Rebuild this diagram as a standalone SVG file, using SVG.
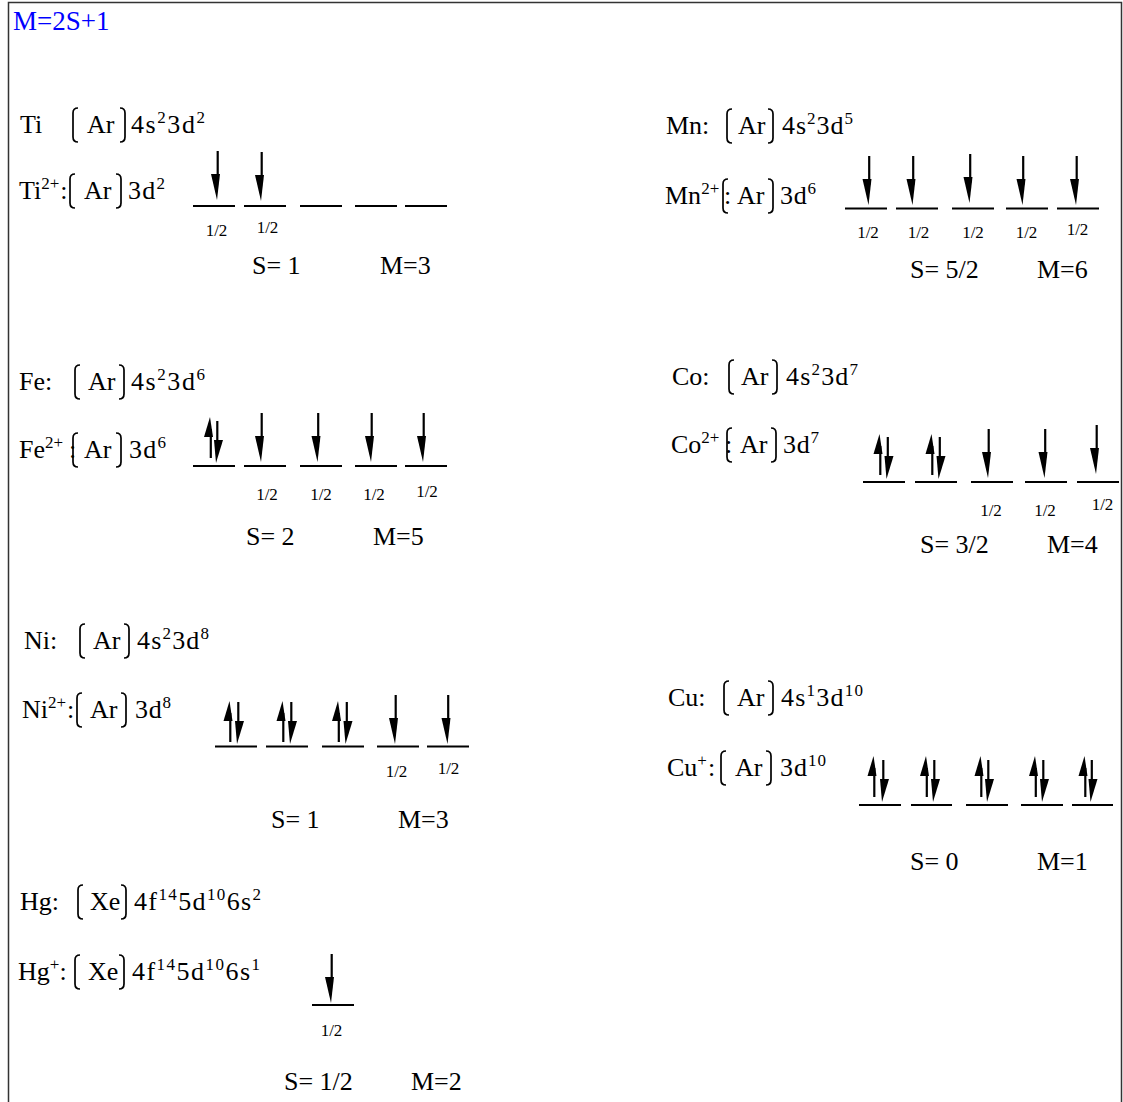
<svg xmlns="http://www.w3.org/2000/svg" xmlns:xlink="http://www.w3.org/1999/xlink" width="1123" height="1102" viewBox="0 0 1123 1102">
<style>
.t{font-family:"Liberation Serif","Times New Roman",serif;font-size:26px;fill:#000}
.s{font-size:17px}
.h{font-family:"Liberation Serif","Times New Roman",serif;font-size:17px;fill:#000;text-anchor:middle}
.ttl{font-family:"Liberation Serif","Times New Roman",serif;font-size:27px;fill:#0000ff}
.br{fill:none;stroke:#000;stroke-width:1.7}
.ln{fill:none;stroke:#000;stroke-width:2}
</style>
<defs>
<g id="dn"><path d="M0.7 -49V-20" stroke="#000" stroke-width="2.2"/><polygon points="0,0 -6,-26 3,-26" fill="#000"/></g>
<g id="up"><path d="M0.8 12V41" stroke="#000" stroke-width="2.2"/><polygon points="0,0 -6,20 3,20" fill="#000"/></g>
<g id="dn2"><path d="M1.3 -42V-18" stroke="#000" stroke-width="2.2"/><polygon points="0,0 -2,-23 7,-23" fill="#000"/></g>
</defs>
<rect width="1123" height="1102" fill="#fff"/>
<path d="M8.5 1102V2.5H1121.5V1102" fill="none" stroke="#333" stroke-width="1.5"/>
<text class="ttl" x="13" y="30">M=2S+1</text>

<g id="ti">
<text class="t" x="20" y="133">Ti</text>
<path class="br" d="M78 108Q73 108 73 113V137Q73 142 78 142M120 108Q125 108 125 113V137Q125 142 120 142"/>
<text class="t" x="87" y="133">Ar</text>
<text class="t" x="131" y="133" textLength="74" lengthAdjust="spacing">4s<tspan class="s" dy="-10">2</tspan><tspan dy="10">3d</tspan><tspan class="s" dy="-10">2</tspan></text>
<text class="t" x="19" y="199">Ti<tspan class="s" dy="-10">2+</tspan><tspan dy="10" dx="1">:</tspan></text>
<path class="br" d="M75 174Q70 174 70 179V203Q70 208 75 208M116 174Q121 174 121 179V203Q121 208 116 208"/>
<text class="t" x="84" y="199">Ar</text>
<text class="t" x="128" y="199" textLength="37" lengthAdjust="spacing">3d<tspan class="s" dy="-10">2</tspan></text>
<path class="ln" d="M193 206H235M244 206H286M300 206H342M355 206H397M405 206H447"/>
<use href="#dn" x="217" y="200"/>
<use href="#dn" x="261" y="201"/>
<text class="h" x="216.5" y="236">1/2</text>
<text class="h" x="267.5" y="233">1/2</text>
<text class="t" x="252" y="274">S= 1</text>
<text class="t" x="380" y="274">M=3</text>
</g>

<g id="mn">
<text class="t" x="666" y="134">Mn:</text>
<path class="br" d="M732 109Q727 109 727 114V138Q727 143 732 143M768 109Q773 109 773 114V138Q773 143 768 143"/>
<text class="t" x="738" y="134">Ar</text>
<text class="t" x="782" y="134" textLength="71" lengthAdjust="spacing">4s<tspan class="s" dy="-10">2</tspan><tspan dy="10">3d</tspan><tspan class="s" dy="-10">5</tspan></text>
<text class="t" x="665" y="204">Mn<tspan class="s" dy="-10">2+</tspan></text>
<path class="br" d="M728 179Q723 179 723 184V208Q723 213 728 213M768 179Q773 179 773 184V208Q773 213 768 213"/>
<text class="t" x="724" y="204">:</text>
<text class="t" x="737" y="204">Ar</text>
<text class="t" x="780" y="204" textLength="36" lengthAdjust="spacing">3d<tspan class="s" dy="-10">6</tspan></text>
<path class="ln" d="M845 208.5H887M896 208.5H938M952 208.5H994M1006 208.5H1048M1057 208.5H1099"/>
<use href="#dn" x="868.5" y="205"/>
<use href="#dn" x="912.5" y="205"/>
<use href="#dn" x="969.5" y="203"/>
<use href="#dn" x="1022.5" y="205"/>
<use href="#dn" x="1076" y="205"/>
<text class="h" x="868" y="238">1/2</text>
<text class="h" x="918.5" y="238">1/2</text>
<text class="h" x="973" y="238">1/2</text>
<text class="h" x="1026.5" y="238">1/2</text>
<text class="h" x="1077.5" y="235">1/2</text>
<text class="t" x="910" y="278">S= 5/2</text>
<text class="t" x="1037" y="278">M=6</text>
</g>

<g id="fe">
<text class="t" x="19" y="390">Fe:</text>
<path class="br" d="M80 365Q75 365 75 370V394Q75 399 80 399M119 365Q124 365 124 370V394Q124 399 119 399"/>
<text class="t" x="88" y="390">Ar</text>
<text class="t" x="131" y="390" textLength="74" lengthAdjust="spacing">4s<tspan class="s" dy="-10">2</tspan><tspan dy="10">3d</tspan><tspan class="s" dy="-10">6</tspan></text>
<text class="t" x="19" y="458">Fe<tspan class="s" dy="-10">2+</tspan></text>
<text class="t" x="69" y="458">:</text>
<path class="br" d="M78 433Q73 433 73 438V462Q73 467 78 467M116 433Q121 433 121 438V462Q121 467 116 467"/>
<text class="t" x="84" y="458">Ar</text>
<text class="t" x="129" y="458" textLength="37" lengthAdjust="spacing">3d<tspan class="s" dy="-10">6</tspan></text>
<path class="ln" d="M193 466H235M244 466H286M300 466H342M355 466H397M405 466H447"/>
<use href="#up" x="210" y="417"/>
<use href="#dn2" x="216" y="463"/>
<use href="#dn" x="261" y="462"/>
<use href="#dn" x="317.5" y="462"/>
<use href="#dn" x="371" y="462"/>
<use href="#dn" x="423" y="462"/>
<text class="h" x="267" y="500">1/2</text>
<text class="h" x="321" y="500">1/2</text>
<text class="h" x="374" y="500">1/2</text>
<text class="h" x="427" y="497">1/2</text>
<text class="t" x="246" y="545">S= 2</text>
<text class="t" x="373" y="545">M=5</text>
</g>

<g id="co">
<text class="t" x="672" y="385">Co:</text>
<path class="br" d="M734 360Q729 360 729 365V389Q729 394 734 394M772 360Q777 360 777 365V389Q777 394 772 394"/>
<text class="t" x="741" y="385">Ar</text>
<text class="t" x="786" y="385" textLength="72" lengthAdjust="spacing">4s<tspan class="s" dy="-10">2</tspan><tspan dy="10">3d</tspan><tspan class="s" dy="-10">7</tspan></text>
<text class="t" x="671" y="453">Co<tspan class="s" dy="-10">2+</tspan></text>
<text class="t" x="725" y="453">:</text>
<path class="br" d="M732 428Q727 428 727 433V457Q727 462 732 462M771 428Q776 428 776 433V457Q776 462 771 462"/>
<text class="t" x="740" y="453">Ar</text>
<text class="t" x="783" y="453" textLength="36" lengthAdjust="spacing">3d<tspan class="s" dy="-10">7</tspan></text>
<path class="ln" d="M863 482H905M915 482H957M971 482H1013M1025 482H1067M1077 482H1119"/>
<use href="#up" x="879.5" y="434"/>
<use href="#dn2" x="886.5" y="479"/>
<use href="#up" x="931.5" y="434"/>
<use href="#dn2" x="938.5" y="479"/>
<use href="#dn" x="988" y="478"/>
<use href="#dn" x="1044.5" y="478"/>
<use href="#dn" x="1096" y="474"/>
<text class="h" x="991" y="516">1/2</text>
<text class="h" x="1045" y="516">1/2</text>
<text class="h" x="1102.5" y="510">1/2</text>
<text class="t" x="920" y="553">S= 3/2</text>
<text class="t" x="1047" y="553">M=4</text>
</g>

<g id="ni">
<text class="t" x="24" y="649">Ni:</text>
<path class="br" d="M85 624Q80 624 80 629V653Q80 658 85 658M124 624Q129 624 129 629V653Q129 658 124 658"/>
<text class="t" x="93" y="649">Ar</text>
<text class="t" x="137" y="649" textLength="72" lengthAdjust="spacing">4s<tspan class="s" dy="-10">2</tspan><tspan dy="10">3d</tspan><tspan class="s" dy="-10">8</tspan></text>
<text class="t" x="22" y="718">Ni<tspan class="s" dy="-10">2+</tspan><tspan dy="10" dx="1">:</tspan></text>
<path class="br" d="M82 693Q77 693 77 698V722Q77 727 82 727M121 693Q126 693 126 698V722Q126 727 121 727"/>
<text class="t" x="90" y="718">Ar</text>
<text class="t" x="135" y="718" textLength="36" lengthAdjust="spacing">3d<tspan class="s" dy="-10">8</tspan></text>
<path class="ln" d="M215 746.5H257M266 746.5H308M322 746.5H364M377 746.5H419M427 746.5H469"/>
<use href="#up" x="229.5" y="701"/>
<use href="#dn2" x="237" y="744"/>
<use href="#up" x="282.5" y="701"/>
<use href="#dn2" x="290" y="744"/>
<use href="#up" x="338" y="701"/>
<use href="#dn2" x="345.5" y="744"/>
<use href="#dn" x="395" y="744"/>
<use href="#dn" x="447.5" y="744"/>
<text class="h" x="396.5" y="777">1/2</text>
<text class="h" x="448.5" y="774">1/2</text>
<text class="t" x="271" y="828">S= 1</text>
<text class="t" x="398" y="828">M=3</text>
</g>

<g id="cu">
<text class="t" x="668" y="706">Cu:</text>
<path class="br" d="M729 681Q724 681 724 686V710Q724 715 729 715M768 681Q773 681 773 686V710Q773 715 768 715"/>
<text class="t" x="737" y="706">Ar</text>
<text class="t" x="781" y="706" textLength="82" lengthAdjust="spacing">4s<tspan class="s" dy="-10">1</tspan><tspan dy="10">3d</tspan><tspan class="s" dy="-10">10</tspan></text>
<text class="t" x="667" y="776">Cu<tspan class="s" dy="-10">+</tspan><tspan dy="10" dx="1">:</tspan></text>
<path class="br" d="M726 751Q721 751 721 756V780Q721 785 726 785M766 751Q771 751 771 756V780Q771 785 766 785"/>
<text class="t" x="735" y="776">Ar</text>
<text class="t" x="780" y="776" textLength="46" lengthAdjust="spacing">3d<tspan class="s" dy="-10">10</tspan></text>
<path class="ln" d="M859 805H901M911 805H952M966 805H1008M1021 805H1063M1072 805H1113"/>
<use href="#up" x="873.5" y="756"/>
<use href="#dn2" x="882" y="802"/>
<use href="#up" x="926" y="756"/>
<use href="#dn2" x="933" y="802"/>
<use href="#up" x="980.5" y="756"/>
<use href="#dn2" x="987" y="802"/>
<use href="#up" x="1035" y="756"/>
<use href="#dn2" x="1042" y="802"/>
<use href="#up" x="1084.5" y="756"/>
<use href="#dn2" x="1090.5" y="802"/>
<text class="t" x="910" y="870">S= 0</text>
<text class="t" x="1037" y="870">M=1</text>
</g>

<g id="hg">
<text class="t" x="20" y="910">Hg:</text>
<path class="br" d="M83 885Q78 885 78 890V914Q78 919 83 919M121 885Q126 885 126 890V914Q126 919 121 919"/>
<text class="t" x="90" y="910">Xe</text>
<text class="t" x="134" y="910" textLength="127" lengthAdjust="spacing">4f<tspan class="s" dy="-10">14</tspan><tspan dy="10">5d</tspan><tspan class="s" dy="-10">10</tspan><tspan dy="10">6s</tspan><tspan class="s" dy="-10">2</tspan></text>
<text class="t" x="18" y="980">Hg<tspan class="s" dy="-10">+</tspan><tspan dy="10">:</tspan></text>
<path class="br" d="M80 955Q75 955 75 960V984Q75 989 80 989M119 955Q124 955 124 960V984Q124 989 119 989"/>
<text class="t" x="88" y="980">Xe</text>
<text class="t" x="132" y="980" textLength="128" lengthAdjust="spacing">4f<tspan class="s" dy="-10">14</tspan><tspan dy="10">5d</tspan><tspan class="s" dy="-10">10</tspan><tspan dy="10">6s</tspan><tspan class="s" dy="-10">1</tspan></text>
<path class="ln" d="M312 1005H354"/>
<use href="#dn" x="331" y="1003"/>
<text class="h" x="331.5" y="1036">1/2</text>
<text class="t" x="284" y="1090">S= 1/2</text>
<text class="t" x="411" y="1090">M=2</text>
</g>
</svg>
